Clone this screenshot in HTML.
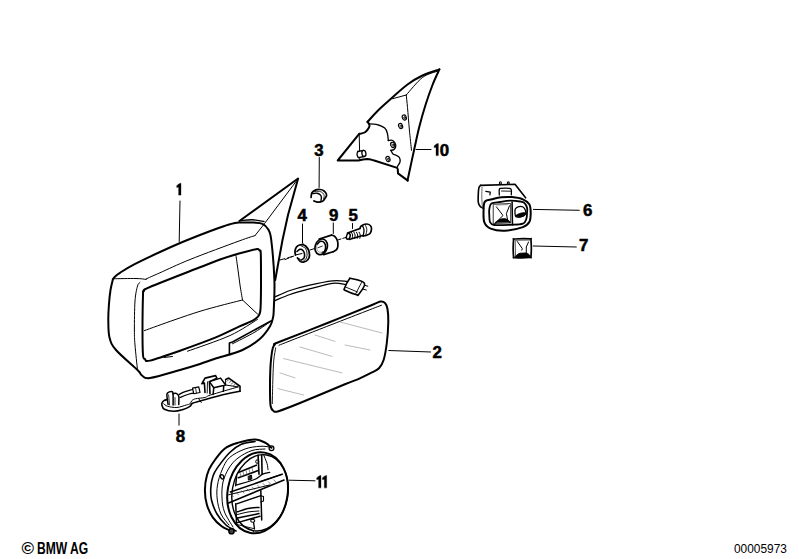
<!DOCTYPE html>
<html><head><meta charset="utf-8"><title>BMW mirror parts</title>
<style>
html,body{margin:0;padding:0;background:#fff;width:799px;height:559px;overflow:hidden}
svg{position:absolute;left:0;top:0;display:block}
.ft{position:absolute;font-family:"Liberation Sans",sans-serif;color:#000;white-space:nowrap;line-height:1}
</style></head><body>
<svg width="799" height="559" viewBox="0 0 799 559">
<g stroke-linecap="round" stroke-linejoin="round">
<path d="M112.9,279.2 C113.32,278.7 114.22,277.27 115.4,276.2 C116.58,275.13 116.87,274.77 120,272.8 C123.13,270.83 127.53,267.87 134.2,264.4 C140.87,260.93 152.53,255.48 160,252 C167.47,248.52 172.33,246.33 179,243.5 C185.67,240.67 193.17,237.67 200,235 C206.83,232.33 215,229.3 220,227.5 C225,225.7 226.83,225.02 230,224.2 C233.17,223.38 235.04,222.87 239,222.6 C242.96,222.33 249.83,222.4 253.75,222.6 C257.67,222.8 260.07,222.65 262.5,223.8 C264.93,224.95 266.84,226.8 268.3,229.5 C269.76,232.2 270.23,231.58 271.25,240 C272.27,248.42 273.98,268.33 274.4,280 C274.82,291.67 273.98,303.75 273.75,310 C273.52,316.25 273.62,314.79 273,317.5 C272.38,320.21 272.17,322.71 270,326.25 C267.83,329.79 264.58,334.79 260,338.75 C255.42,342.71 250,346.66 242.5,350 C235,353.34 222.08,356.47 215,358.8 C207.92,361.13 205.83,362.13 200,364 C194.17,365.87 188.33,367.67 180,370 C171.67,372.33 156.33,377.08 150,378 C143.67,378.92 144.08,376.83 142,375.5 C139.92,374.17 141.83,374.25 137.5,370 C133.17,365.75 120.67,355.42 116,350 C111.33,344.58 110.78,342.5 109.5,337.5 C108.22,332.5 108.4,325.42 108.3,320 C108.2,314.58 108.53,310 108.9,305 C109.27,300 109.83,294.3 110.5,290 C111.17,285.7 112.5,281 112.9,279.2" stroke="#000" stroke-width="2" fill="none"/>
<path d="M113.75,278.75 C117.46,278.71 130.58,278.39 136,278.5 C141.42,278.61 144.54,279.25 146.25,279.4" stroke="#000" stroke-width="1" fill="none"/>
<path d="M140,282.5 C139.58,283.08 138.33,282.92 137.5,286 C136.67,289.08 135.52,293.67 135,301 C134.48,308.33 134.4,322.67 134.4,330 C134.4,337.33 134.48,338.33 135,345 C135.52,351.67 137.08,365.83 137.5,370" stroke="#000" stroke-width="1" fill="none"/>
<path d="M146.2,278.9 C148.48,277.88 152.6,276.03 159.9,272.8 C167.2,269.57 176.82,264.8 190,259.5 C203.18,254.2 228.17,244.98 239,241 C249.83,237.02 252.33,236.5 255,235.6" stroke="#000" stroke-width="1" fill="none"/>
<path d="M255,235.6 L264.4,223.75 L297.5,179.5" stroke="#000" stroke-width="1" fill="none"/>
<path d="M143.75,291.25 C144.92,289.92 140.62,290.99 150,287 C159.38,283.01 188.33,271.88 200,267.3 C211.67,262.72 213.5,261.8 220,259.5 C226.5,257.2 233,255.22 239,253.5 C245,251.78 252.58,249.7 256,249.2 C259.42,248.7 258.7,249.7 259.5,250.5 C260.3,251.3 260.55,248.25 260.8,254 C261.05,259.75 261,277 261,285 C261,293 260.92,297.67 260.8,302 C260.68,306.33 260.63,308.75 260.3,311 C259.97,313.25 259.6,314.2 258.8,315.5 C258,316.8 256.97,317.73 255.5,318.8 C254.03,319.87 252.75,320.58 250,321.9 C247.25,323.22 244.7,324.12 239,326.7 C233.3,329.28 225.63,333.4 215.8,337.4 C205.97,341.4 190.97,346.83 180,350.7 C169.03,354.57 155.83,359.22 150,360.6 C144.17,361.98 146.17,359.93 145,359 C143.83,358.07 143.42,359.83 143,355 C142.58,350.17 142.5,340 142.5,330 C142.5,320 142.79,301.46 143,295 C143.21,288.54 142.58,292.58 143.75,291.25Z" stroke="#000" stroke-width="2" fill="none"/>
<path d="M144.4,330.6 C149.33,328.83 164.73,323.22 174,320 C183.27,316.78 192,313.77 200,311.3 C208,308.83 214.92,307.08 222,305.2 C229.08,303.32 239.08,300.87 242.5,300" stroke="#000" stroke-width="1" fill="none"/>
<path d="M236,255.6 C236.33,258 237.33,265.1 238,270 C238.67,274.9 239.25,280 240,285 C240.75,290 242.08,297.5 242.5,300" stroke="#000" stroke-width="1" fill="none"/>
<path d="M242.5,300 L257.5,314" stroke="#000" stroke-width="1" fill="none"/>
<path d="M164,357.5 L172.5,356.5" stroke="#000" stroke-width="1" fill="none"/>
<path d="M187.5,351.25 C194.58,348.62 218.33,340.81 230,335.5 C241.67,330.19 252.92,322.08 257.5,319.4" stroke="#000" stroke-width="1" fill="none"/>
<path d="M232.5,343.75 C236.25,341.79 248.33,335.96 255,332 C261.67,328.04 269.58,322 272.5,320" stroke="#000" stroke-width="1" fill="none"/>
<path d="M229.4,353.5 L229.4,343 L232.5,342 L271,321" stroke="#000" stroke-width="1.6" fill="none"/>
<path d="M239.4,221 L298.1,178.5 L288,215 L282.5,240 L275.2,280" stroke="#000" stroke-width="2" fill="none"/>
<path d="M240,220.6 C242.08,220.47 248.5,219.65 252.5,219.8 C256.5,219.95 262.08,221.22 264,221.5" stroke="#000" stroke-width="1.4" fill="none"/>
<path d="M180,201 L179.2,241.5" stroke="#000" stroke-width="1" fill="none"/>
<path d="M280,260 L294,256" stroke="#000" stroke-width="1" fill="none" stroke-dasharray="5 3"/>
<path d="M279,342 C288.17,338.3 314.5,328.17 330,322 C345.5,315.83 363.58,308.4 372,305 C380.42,301.6 378.3,301.9 380.5,301.6 C382.7,301.3 384.03,301.97 385.2,303.2 C386.37,304.43 386.98,305.87 387.5,309 C388.02,312.13 388.42,316.33 388.3,322 C388.18,327.67 387.58,336.67 386.8,343 C386.02,349.33 384.9,355.78 383.6,360 C382.3,364.22 380.93,366.23 379,368.3 C377.07,370.37 375.55,370.57 372,372.4 C368.45,374.23 362.22,377.32 357.7,379.3 C353.18,381.28 354.52,380.35 344.9,384.3 C335.28,388.25 311.07,398.52 300,403 C288.93,407.48 282.92,409.87 278.5,411.2 C274.08,412.53 274.82,411.87 273.5,411 C272.18,410.13 271.18,409.5 270.6,406 C270.02,402.5 270.05,396 270,390 C269.95,384 270.08,375.5 270.3,370 C270.52,364.5 270.88,360.67 271.3,357 C271.72,353.33 272.18,350.13 272.8,348 C273.42,345.87 273.97,345.2 275,344.2 C276.03,343.2 269.83,345.7 279,342Z" stroke="#000" stroke-width="2" fill="none"/>
<path d="M279,345.2 C287.5,341.87 312.92,331.87 330,325.2 C347.08,318.53 372.92,308.53 381.5,305.2" stroke="#000" stroke-width="1" fill="none"/>
<path d="M275.7,347.9 C275.38,349.92 274.27,355 273.8,360 C273.33,365 273.15,370.63 272.9,377.9 C272.65,385.17 272.4,399.32 272.3,403.6" stroke="#000" stroke-width="0.9" fill="none"/>
<path d="M300,347 L332,356.4" stroke="#aaa" stroke-width="0.8" fill="none"/>
<path d="M283.6,358.6 L342,372.9" stroke="#aaa" stroke-width="0.8" fill="none"/>
<path d="M280,372.9 L295,377.9" stroke="#aaa" stroke-width="0.8" fill="none"/>
<path d="M277.9,388.6 L303.6,395" stroke="#aaa" stroke-width="0.8" fill="none"/>
<path d="M315,335 L335,341.4" stroke="#aaa" stroke-width="0.8" fill="none"/>
<path d="M340,322 L382,333" stroke="#aaa" stroke-width="0.8" fill="none"/>
<path d="M345,345 L370,350" stroke="#aaa" stroke-width="0.8" fill="none"/>
<path d="M388.8,350.5 L430.6,352" stroke="#000" stroke-width="1" fill="none"/>
<path d="M275,296.9 C277.5,295.83 284.58,292.38 290,290.5 C295.42,288.62 300.42,287.22 307.5,285.6 C314.58,283.98 325.92,281.52 332.5,280.8 C339.08,280.08 344.58,281.22 347,281.3" stroke="#000" stroke-width="1.3" fill="none"/>
<path d="M275,300.6 C277.5,299.58 284.58,296.37 290,294.5 C295.42,292.63 300.42,291.27 307.5,289.4 C314.58,287.53 326.17,284.1 332.5,283.3 C338.83,282.5 343.33,284.38 345.5,284.6" stroke="#000" stroke-width="1.3" fill="none"/>
<path d="M344.4,288.5 C345.02,286.63 348.02,280.95 349.2,279.3 C350.38,277.65 348.95,277.93 351.5,278.6 C354.05,279.27 363.28,280.68 364.5,283.3 C365.72,285.92 360.13,292.4 358.8,294.3 C357.47,296.2 358.72,295.33 356.5,294.7 C354.28,294.07 347.52,291.53 345.5,290.5 C343.48,289.47 343.78,290.37 344.4,288.5Z" stroke="#000" stroke-width="1.6" fill="none"/>
<path d="M346,287.2 L357.5,292" stroke="#000" stroke-width="0.9" fill="none"/>
<path d="M361.5,282.5 L355.8,293.6" stroke="#000" stroke-width="0.9" fill="none"/>
<path d="M364.5,285.2 L367.8,286.2" stroke="#000" stroke-width="1" fill="none"/>
<path d="M362.6,289 L366.2,290" stroke="#000" stroke-width="1" fill="none"/>
<path d="M319.3,157.5 L319.1,187.5" stroke="#000" stroke-width="1" fill="none"/>
<path d="M311.1,197.4 C311.23,196.62 311.12,193.95 311.9,192.7 C312.68,191.45 314.42,190.43 315.8,189.9 C317.18,189.37 318.88,189.37 320.2,189.5 C321.52,189.63 322.72,190.05 323.7,190.7 C324.68,191.35 325.63,192.55 326.1,193.4 C326.57,194.25 326.7,194.93 326.5,195.8 C326.3,196.67 325.57,197.68 324.9,198.6 C324.23,199.52 323.68,200.72 322.5,201.3 C321.32,201.88 319.23,202.17 317.8,202.1 C316.37,202.03 314.55,201.1 313.9,200.9" stroke="#000" stroke-width="1.7" fill="none"/>
<path d="M312.7,193.6 C313.42,193.53 315.75,193 317,193.2 C318.25,193.4 319.47,194.13 320.2,194.8 C320.93,195.47 321.27,196.25 321.4,197.2 C321.53,198.15 321.07,199.95 321,200.5" stroke="#000" stroke-width="1.4" fill="none"/>
<path d="M314,191.6 C314.9,191.57 317.93,191.17 319.4,191.4 C320.87,191.63 322,192.27 322.8,193 C323.6,193.73 324.08,194.8 324.2,195.8 C324.32,196.8 323.62,198.47 323.5,199" stroke="#000" stroke-width="0.8" fill="none"/>
<path d="M302.5,224 L302.5,243" stroke="#000" stroke-width="1" fill="none"/>
<path d="M295.5,255 C295.42,254.33 294.83,252.33 295,251 C295.17,249.67 295.75,248 296.5,247 C297.25,246 298.42,245.42 299.5,245 C300.58,244.58 302.42,244.58 303,244.5" stroke="#000" stroke-width="1.8" fill="none"/>
<path d="M303,244.5 C303.42,244.75 304.58,245.08 305.5,246 C306.42,246.92 307.83,248.42 308.5,250 C309.17,251.58 309.58,253.92 309.5,255.5 C309.42,257.08 308.92,258.42 308,259.5 C307.08,260.58 305.25,261.67 304,262 C302.75,262.33 301.58,262.17 300.5,261.5 C299.42,260.83 298,258.58 297.5,258" stroke="#000" stroke-width="1.8" fill="none"/>
<path d="M297,251.5 C297.5,251.13 299,249.47 300,249.3 C301,249.13 302.25,249.72 303,250.5 C303.75,251.28 304.33,252.75 304.5,254 C304.67,255.25 304.5,257 304,258 C303.5,259 301.92,259.67 301.5,260" stroke="#000" stroke-width="1.6" fill="none"/>
<path d="M301.5,246 C302.17,246.42 304.58,247.33 305.5,248.5 C306.42,249.67 306.83,251.42 307,253 C307.17,254.58 307.08,256.67 306.5,258 C305.92,259.33 304,260.5 303.5,261" stroke="#000" stroke-width="0.9" fill="none"/>
<path d="M295.5,255 L302,253.5" stroke="#000" stroke-width="1" fill="none"/>
<path d="M297.5,258 L300.3,259.3" stroke="#000" stroke-width="1" fill="none"/>
<path d="M333.3,223 L333.3,233.5" stroke="#000" stroke-width="1" fill="none"/>
<ellipse cx="321.2" cy="246.8" rx="6" ry="8" transform="rotate(18 321.2 246.8)" stroke="#000" stroke-width="1.7" fill="none"/>
<path d="M317,244.5 C317.62,243.97 319.45,241.57 320.7,241.3 C321.95,241.03 323.68,241.92 324.5,242.9 C325.32,243.88 325.6,245.77 325.6,247.2 C325.6,248.63 325.05,250.62 324.5,251.5 C323.95,252.38 322.67,252.33 322.3,252.5" stroke="#000" stroke-width="1.6" fill="none"/>
<path d="M317,244.5 C316.93,245.08 316.38,246.83 316.6,248 C316.82,249.17 317.35,250.75 318.3,251.5 C319.25,252.25 321.63,252.33 322.3,252.5" stroke="#777" stroke-width="0.7" fill="none"/>
<path d="M318,247.7 L322.3,246.1" stroke="#000" stroke-width="0.8" fill="none"/>
<path d="M319.2,239 L331.5,235.1" stroke="#000" stroke-width="1.7" fill="none"/>
<path d="M331.5,235.1 C332.03,235.32 333.72,235.47 334.7,236.4 C335.68,237.33 336.87,239.08 337.4,240.7 C337.93,242.32 338.08,244.57 337.9,246.1 C337.72,247.63 337.12,248.95 336.3,249.9 C335.48,250.85 333.55,251.48 333,251.8" stroke="#000" stroke-width="1.7" fill="none"/>
<path d="M333,251.8 L323.6,254.6" stroke="#000" stroke-width="1.7" fill="none"/>
<path d="M285,259.6 L293.9,256" stroke="#000" stroke-width="1" fill="none" stroke-dasharray="4 2.5"/>
<path d="M310,250 L314.5,248.6" stroke="#000" stroke-width="1" fill="none"/>
<path d="M338.1,239.9 L345.6,237.5" stroke="#000" stroke-width="1" fill="none" stroke-dasharray="3 2"/>
<path d="M352.5,223.5 L352.5,228.5" stroke="#000" stroke-width="1" fill="none"/>
<path d="M347.5,233.1 L360,228.4" stroke="#000" stroke-width="1.6" fill="none"/>
<path d="M349.2,239.4 L362.5,235.6" stroke="#000" stroke-width="1.6" fill="none"/>
<ellipse cx="348.3" cy="236.3" rx="1.8" ry="3" transform="rotate(15 348.3 236.3)" stroke="#000" stroke-width="1.5" fill="none"/>
<path d="M360,228.4 C360.2,228 360.16,226.73 361.2,226 C362.24,225.27 364.73,224.08 366.25,224 C367.77,223.92 369.43,224.67 370.3,225.5 C371.18,226.33 371.55,227.67 371.5,229 C371.45,230.33 370.92,232.42 370,233.5 C369.08,234.58 367.17,235.08 366,235.5 C364.83,235.92 363.5,235.92 363,236" stroke="#000" stroke-width="1.7" fill="none"/>
<path d="M362.5,225.8 C362.75,226.5 363.88,228.33 364,230 C364.12,231.67 363.33,234.83 363.2,235.8" stroke="#000" stroke-width="1.3" fill="none"/>
<path d="M365.2,224.6 C365.47,225.42 366.7,227.77 366.8,229.5 C366.9,231.23 365.97,234.08 365.8,235" stroke="#000" stroke-width="0.9" fill="none"/>
<path d="M351.3,232.2 C351.52,232.67 352.47,233.98 352.6,235 C352.73,236.02 352.18,237.75 352.1,238.3" stroke="#000" stroke-width="1" fill="none"/>
<path d="M353.8,232.2 C354.02,232.67 354.97,233.98 355.1,235 C355.23,236.02 354.68,237.75 354.6,238.3" stroke="#000" stroke-width="1" fill="none"/>
<path d="M356.4,232.2 C356.62,232.67 357.57,233.98 357.7,235 C357.83,236.02 357.28,237.75 357.2,238.3" stroke="#000" stroke-width="1" fill="none"/>
<path d="M359,232.2 C359.22,232.67 360.17,233.98 360.3,235 C360.43,236.02 359.88,237.75 359.8,238.3" stroke="#000" stroke-width="1" fill="none"/>
<path d="M439.4,69.4 C436.58,70.42 427.82,72.98 422.5,75.5 C417.18,78.02 412.71,80.67 407.5,84.5 C402.29,88.33 396.17,94.17 391.25,98.5 C386.33,102.83 381.96,106.6 378,110.5 C374.04,114.4 369.25,120 367.5,121.9" stroke="#000" stroke-width="2" fill="none"/>
<path d="M367.5,121.9 C367.82,122.38 369.15,123.87 369.4,124.8 C369.65,125.73 369.67,126.3 369,127.5 C368.33,128.7 366.73,130.98 365.4,132 C364.07,133.02 362.03,133.3 361,133.6 C359.97,133.9 359.5,133.77 359.2,133.8M359.2,133.8 L337.7,160.5 L358.5,160.6 L363,159.6 L367,158.9 L371,159.6 L375,160.7 L397.2,167.9 L397.8,169.5 L398,173.4 L407.8,180.6" stroke="#000" stroke-width="2" fill="none"/>
<path d="M439.4,69.4 C438.25,72 434.82,79.07 432.5,85 C430.18,90.93 427.67,98.17 425.5,105 C423.33,111.83 421.33,118.83 419.5,126 C417.67,133.17 416.5,138.92 414.5,148 C412.5,157.08 408.67,175.08 407.5,180.5" stroke="#000" stroke-width="2" fill="none"/>
<path d="M438,71 C435.42,72.08 427.79,73.5 422.5,77.5 C417.21,81.5 408.96,92.08 406.25,95" stroke="#000" stroke-width="1" fill="none"/>
<path d="M392.5,98.75 L406.25,95" stroke="#000" stroke-width="1" fill="none"/>
<path d="M406.25,95 C406.46,97.08 406.98,101.67 407.5,107.5 C408.02,113.33 408.73,122.87 409.4,130 C410.07,137.13 411.15,146.92 411.5,150.3" stroke="#000" stroke-width="1" fill="none"/>
<path d="M359.2,134.2 L359.6,151.2" stroke="#000" stroke-width="1" fill="none"/>
<path d="M359.7,157.8 L359.8,160.3" stroke="#000" stroke-width="1" fill="none"/>
<path d="M368.75,123.75 C370,123.86 373.59,123.68 376.25,124.4 C378.91,125.12 382.82,126.5 384.7,128.1 C386.57,129.7 386.9,131.93 387.5,134 C388.1,136.07 388.17,139.42 388.3,140.5" stroke="#000" stroke-width="1.3" fill="none"/>
<path d="M388.3,140.5 C389.03,140.5 391.45,139.75 392.7,140.5 C393.95,141.25 395.58,143.5 395.8,145 C396.02,146.5 394.83,148.62 394,149.5 C393.17,150.38 391.33,150.17 390.8,150.3" stroke="#000" stroke-width="1.3" fill="none"/>
<path d="M390.8,150.3 C391.17,150.92 392.05,153.13 393,154 C393.95,154.87 395.43,154.92 396.5,155.5 C397.57,156.08 398.82,156.42 399.4,157.5 C399.98,158.58 400.33,160.52 400,162 C399.67,163.48 397.83,165.67 397.4,166.4" stroke="#000" stroke-width="1.3" fill="none"/>
<ellipse cx="404.3" cy="117.5" rx="2" ry="2.7" transform="rotate(-20 404.3 117.5)" stroke="#000" stroke-width="1.1" fill="none"/>
<ellipse cx="404.6" cy="117.8" rx="0.8" ry="1.2" transform="rotate(-20 404.6 117.8)" stroke="#000" stroke-width="0.8" fill="none"/>
<ellipse cx="400.6" cy="126" rx="2" ry="2.7" transform="rotate(-20 400.6 126)" stroke="#000" stroke-width="1.1" fill="none"/>
<ellipse cx="400.9" cy="126.3" rx="0.8" ry="1.2" transform="rotate(-20 400.9 126.3)" stroke="#000" stroke-width="0.8" fill="none"/>
<ellipse cx="392.7" cy="144.9" rx="2" ry="2.7" transform="rotate(-20 392.7 144.9)" stroke="#000" stroke-width="1.1" fill="none"/>
<ellipse cx="393" cy="145.2" rx="0.8" ry="1.2" transform="rotate(-20 393 145.2)" stroke="#000" stroke-width="0.8" fill="none"/>
<ellipse cx="388" cy="159" rx="2" ry="2.7" transform="rotate(-20 388 159)" stroke="#000" stroke-width="1.1" fill="none"/>
<ellipse cx="388.3" cy="159.3" rx="0.8" ry="1.2" transform="rotate(-20 388.3 159.3)" stroke="#000" stroke-width="0.8" fill="none"/>
<ellipse cx="363.9" cy="153.4" rx="2" ry="3.1" transform="rotate(-10 363.9 153.4)" stroke="#000" stroke-width="1.3" fill="none"/>
<path d="M357.8,151.5 L363.5,150.3" stroke="#000" stroke-width="1.3" fill="none"/>
<path d="M358.3,157.6 L364.3,156.5" stroke="#000" stroke-width="1.3" fill="none"/>
<path d="M357.8,151.5 C357.67,152 356.92,153.48 357,154.5 C357.08,155.52 358.08,157.08 358.3,157.6" stroke="#000" stroke-width="1.3" fill="none"/>
<path d="M416,149.5 L431,149.5" stroke="#000" stroke-width="1" fill="none"/>
<path d="M483.5,208.3 C483,208.05 481.37,207.8 480.5,206.8 C479.63,205.8 478.65,204.77 478.3,202.3 C477.95,199.83 478.28,194.47 478.4,192 C478.52,189.53 478.65,188.6 479,187.5 C479.35,186.4 480.25,185.75 480.5,185.4" stroke="#000" stroke-width="1.6" fill="none"/>
<path d="M480.5,185.4 L515,184.3 L525.6,197.8" stroke="#000" stroke-width="1.6" fill="none"/>
<path d="M482,187.3 C481.97,188.92 481.73,193.63 481.8,197 C481.87,200.37 482.3,205.75 482.4,207.5" stroke="#444" stroke-width="0.8" fill="none"/>
<path d="M485.8,191.4 L490.3,192.1 L489.9,194.8" stroke="#000" stroke-width="1.2" fill="none"/>
<path d="M499.3,195 C499.3,194.08 499.02,190.6 499.3,189.5 C499.58,188.4 499.3,188.58 501,188.4 C502.7,188.22 507.78,188.13 509.5,188.4 C511.22,188.67 511,188.93 511.3,190 C511.6,191.07 511.3,194 511.3,194.8" stroke="#000" stroke-width="1.3" fill="none"/>
<path d="M501.5,191 L510.5,191.2" stroke="#000" stroke-width="0.9" fill="none"/>
<ellipse cx="500.4" cy="182.9" rx="1" ry="1.2" transform="rotate(0 500.4 182.9)" stroke="#000" stroke-width="1.1" fill="none"/>
<ellipse cx="508.3" cy="183.1" rx="1" ry="1.2" transform="rotate(0 508.3 183.1)" stroke="#000" stroke-width="1.1" fill="none"/>
<path d="M485,201.5 C486.4,199.83 489.27,200 492,199.3 C494.73,198.6 498.07,197.67 501.4,197.3 C504.73,196.93 508.42,196.77 512,197.1 C515.58,197.43 520.02,198.1 522.9,199.3 C525.78,200.5 528,202.03 529.3,204.3 C530.6,206.57 530.7,209.93 530.7,212.9 C530.7,215.87 530.6,219.73 529.3,222.1 C528,224.47 526.95,225.67 522.9,227.1 C518.85,228.53 510.37,230.45 505,230.7 C499.63,230.95 494.15,230.03 490.7,228.6 C487.25,227.17 485.48,225.32 484.3,222.1 C483.12,218.88 483.48,212.73 483.6,209.3 C483.72,205.87 483.6,203.17 485,201.5Z" stroke="#000" stroke-width="2" fill="none"/>
<path d="M491.4,203.6 C493.18,202.38 496.9,202.48 500,202 C503.1,201.52 506.67,200.78 510,200.7 C513.33,200.62 517.62,201.13 520,201.5 C522.38,201.87 523.12,201.83 524.3,202.9 C525.48,203.97 526.65,206.22 527.1,207.9 C527.55,209.58 527.12,211.22 527,213 C526.88,214.78 527.08,216.83 526.4,218.6 C525.72,220.37 525.63,222.57 522.9,223.6 C520.17,224.63 514.77,224.57 510,224.8 C505.23,225.03 497.63,225.47 494.3,225 C490.97,224.53 490.83,223.67 490,222 C489.17,220.33 489.42,217.12 489.3,215 C489.18,212.88 488.95,211.2 489.3,209.3 C489.65,207.4 489.62,204.82 491.4,203.6Z" stroke="#000" stroke-width="1.8" fill="none"/>
<path d="M493.6,204.3 L510.7,203.5 L510.7,222.9 L493.6,223.5Z" stroke="#333" stroke-width="1" fill="none"/>
<path d="M496.4,206.8 L503,215.5 L497,221.5" stroke="#000" stroke-width="1" fill="none"/>
<path d="M509.5,205.7 L506.4,213.6 L507.9,221.4" stroke="#000" stroke-width="1" fill="none"/>
<path d="M496.5,205 L507.5,204.6" stroke="#777" stroke-width="0.8" fill="none"/>
<path d="M495.5,222.8 C496.25,222.25 498.58,220.17 500,219.5 C501.42,218.83 502.83,218.8 504,218.8 C505.17,218.8 506,218.87 507,219.5 C508,220.13 509.5,222.08 510,222.6" stroke="#000" stroke-width="1.3" fill="#000"/>
<path d="M512.1,202.1 L512.5,225" stroke="#000" stroke-width="1.5" fill="none"/>
<path d="M515.3,209 C515.8,207.97 516.72,207.13 518,206.8 C519.28,206.47 521.75,206.38 523,207 C524.25,207.62 525.12,209.25 525.5,210.5 C525.88,211.75 525.97,213.48 525.3,214.5 C524.63,215.52 523.05,216.23 521.5,216.6 C519.95,216.97 517.08,217.3 516,216.7 C514.92,216.1 515.12,214.28 515,213 C514.88,211.72 514.8,210.03 515.3,209Z" stroke="#000" stroke-width="1.3" fill="none"/>
<path d="M516,215.5 C516.53,215 518.03,214.05 519.5,213.6 C520.97,213.15 524.02,212.47 524.8,212.8 C525.58,213.13 524.92,214.92 524.2,215.6 C523.48,216.28 521.82,216.73 520.5,216.9 C519.18,217.07 517.05,216.83 516.3,216.6 C515.55,216.37 515.47,216 516,215.5Z" stroke="#000" stroke-width="1" fill="#000"/>
<path d="M533.4,209.4 L579.3,210.3" stroke="#000" stroke-width="1" fill="none"/>
<path d="M515,239 C517.67,238.72 526.83,238.55 529.5,238.8 C532.17,239.05 530.75,237.63 531,240.5 C531.25,243.37 531.25,253.17 531,256 C530.75,258.83 532.17,257.23 529.5,257.5 C526.83,257.77 517.67,257.85 515,257.6 C512.33,257.35 513.75,258.85 513.5,256 C513.25,253.15 513.25,243.33 513.5,240.5 C513.75,237.67 512.33,239.28 515,239Z" stroke="#000" stroke-width="1.7" fill="none"/>
<path d="M515.2,240.2 L529.8,240" stroke="#555" stroke-width="1.2" fill="none"/>
<path d="M515.2,241 L515.5,256" stroke="#444" stroke-width="0.9" fill="none"/>
<path d="M517.3,241.5 L522.3,248.5 L521.8,250.2" stroke="#000" stroke-width="1" fill="none"/>
<path d="M528.5,242 L526.3,247 L526.3,253.2" stroke="#000" stroke-width="1" fill="none"/>
<path d="M516,257 C514.2,256.47 518,254.23 519,253.6 C520,252.97 520.67,253.25 522,253.2 C523.33,253.15 525.7,252.7 527,253.3 C528.3,253.9 531.63,256.18 529.8,256.8 C527.97,257.42 517.8,257.53 516,257Z" stroke="#000" stroke-width="1" fill="#000"/>
<path d="M533.2,246 L576.3,247" stroke="#000" stroke-width="1" fill="none"/>
<path d="M167.5,399.4 C166.92,399.6 164.88,400.08 164,400.6 C163.12,401.12 162.55,401.77 162.2,402.5 C161.85,403.23 161.53,403.88 161.9,405 C162.27,406.12 162.43,408.17 164.4,409.2 C166.38,410.23 170.63,411.17 173.75,411.2 C176.87,411.23 180.39,410.22 183.1,409.4 C185.81,408.58 188.43,407.32 190,406.3 C191.57,405.28 190.52,404.25 192.5,403.3 C194.48,402.35 197.32,401.9 201.9,400.6 C206.48,399.3 213.65,397.06 220,395.5 C226.35,393.94 236.67,391.96 240,391.25" stroke="#000" stroke-width="1.6" fill="none"/>
<path d="M240,391.25 L240,386.25 L228.75,378.1 L225.6,379.4" stroke="#000" stroke-width="1.6" fill="none"/>
<path d="M163.75,403.75 C164.38,404.17 165.31,405.62 167.5,406.25 C169.69,406.88 173.78,407.71 176.9,407.5 C180.03,407.29 184.07,405.62 186.25,405 C188.43,404.38 189.06,404.48 190,403.75 C190.94,403.02 190.97,401.43 191.9,400.6 C192.83,399.77 193.42,399.27 195.6,398.75 C197.78,398.23 202.5,398.12 205,397.5 C207.5,396.88 205.08,396.77 210.6,395 C216.12,393.23 233.52,388.25 238.1,386.9" stroke="#000" stroke-width="1" fill="none"/>
<path d="M201.25,402.5 L198.75,398.75" stroke="#000" stroke-width="1" fill="none"/>
<path d="M225.6,379.4 L225.6,385 L238.1,386.9" stroke="#000" stroke-width="1" fill="none"/>
<path d="M229,379.6 L227,381.1" stroke="#333" stroke-width="0.7" fill="none"/>
<path d="M231.1,381.1 L229.1,382.6" stroke="#333" stroke-width="0.7" fill="none"/>
<path d="M233.2,382.6 L231.2,384.1" stroke="#333" stroke-width="0.7" fill="none"/>
<path d="M235.3,384.1 L233.3,385.6" stroke="#333" stroke-width="0.7" fill="none"/>
<path d="M237.4,385.6 L235.4,387.1" stroke="#333" stroke-width="0.7" fill="none"/>
<path d="M205,392.5 L204.4,383.1 L201.9,383.75 L205,378.1 L215.6,375.6 L216.9,378.1 L209.4,381.6 L210,393.75" stroke="#000" stroke-width="1.6" fill="none"/>
<path d="M207.5,381.9 L207.2,393.1" stroke="#000" stroke-width="0.9" fill="none"/>
<path d="M209.4,381.6 L220.6,378.1 L225.6,385 L213.75,387.8Z" stroke="#000" stroke-width="1.5" fill="none"/>
<path d="M213.75,387.8 L213.1,394.4" stroke="#000" stroke-width="1.5" fill="none"/>
<path d="M223.75,385.6 L223.4,391.25" stroke="#000" stroke-width="1.5" fill="none"/>
<path d="M168.1,404.5 C167.9,402.82 166.68,396.5 166.9,394.4 C167.12,392.3 168.47,392.32 169.4,391.9 C170.33,391.48 171.88,391.38 172.5,391.9 C173.12,392.42 173,392.82 173.1,395 C173.2,397.18 173.1,403.33 173.1,405" stroke="#000" stroke-width="1.5" fill="none"/>
<path d="M168.6,394.8 L169.6,405" stroke="#000" stroke-width="0.8" fill="none"/>
<path d="M172.8,393.75 C173.38,393.69 175.26,392.98 176.25,393.4 C177.24,393.82 178.33,394.42 178.75,396.25 C179.17,398.08 178.75,403.04 178.75,404.4" stroke="#000" stroke-width="1.5" fill="none"/>
<path d="M175,397.5 L175,405" stroke="#000" stroke-width="0.8" fill="none"/>
<path d="M179.4,394.4 C180.23,393.98 182.22,392.72 184.4,391.9 C186.58,391.08 191.15,389.9 192.5,389.5" stroke="#000" stroke-width="1.3" fill="none"/>
<path d="M180,397.5 C181.04,397.08 184.07,395.73 186.25,395 C188.43,394.27 191.96,393.42 193.1,393.1" stroke="#000" stroke-width="1.3" fill="none"/>
<path d="M192.5,388.1 L198.75,386.9 L200,392.5 L193.75,393.75Z" stroke="#000" stroke-width="1.2" fill="none"/>
<path d="M195.5,387.6 L196.5,393.2" stroke="#000" stroke-width="0.8" fill="none"/>
<path d="M179,414 L179,425.2" stroke="#000" stroke-width="1" fill="none"/>
<path d="M229.5,530.2 C228.18,529.55 224.38,528.43 221.6,526.3 C218.82,524.17 215.25,521 212.8,517.4 C210.35,513.8 208.22,509.27 206.9,504.7 C205.58,500.13 204.88,494.95 204.9,490 C204.92,485.05 205.85,479.25 207,475 C208.15,470.75 208.87,468.87 211.8,464.5 C214.73,460.13 220.02,452.48 224.6,448.8 C229.18,445.12 234.23,443.97 239.3,442.4 C244.37,440.83 250.62,439.32 255,439.4 C259.38,439.48 262.85,441.5 265.6,442.9 C268.35,444.3 270.52,446.98 271.5,447.8" stroke="#000" stroke-width="2" fill="none"/>
<path d="M236,531 C234.33,530 229.17,527.83 226,525 C222.83,522.17 219.42,518.17 217,514 C214.58,509.83 212.53,504.33 211.5,500 C210.47,495.67 210.55,492 210.8,488 C211.05,484 211.85,479.43 213,476 C214.15,472.57 214.95,471.28 217.7,467.4 C220.45,463.52 225.57,456.55 229.5,452.7 C233.43,448.85 237.05,446.17 241.3,444.3 C245.55,442.43 252.72,441.97 255,441.5" stroke="#000" stroke-width="1.6" fill="none"/>
<path d="M229,525 C227.67,523.17 222.97,518.33 221,514 C219.03,509.67 217.78,503.83 217.2,499 C216.62,494.17 216.7,489.83 217.5,485 C218.3,480.17 220,474.57 222,470 C224,465.43 225.67,461.1 229.5,457.6 C233.33,454.1 239.92,450.88 245,449 C250.08,447.12 255.83,446.63 260,446.3 C264.17,445.97 268.33,446.88 270,447" stroke="#000" stroke-width="1" fill="none"/>
<path d="M233,527 C231.58,524.5 226.33,516.83 224.5,512 C222.67,507.17 222.25,503 222,498 C221.75,493 221.83,487 223,482 C224.17,477 226.5,472 229,468 C231.5,464 234.17,460.92 238,458 C241.83,455.08 247.5,452 252,450.5 C256.5,449 262.83,449.25 265,449" stroke="#000" stroke-width="1" fill="none"/>
<ellipse cx="257.6" cy="492.8" rx="30" ry="40.8" transform="rotate(10 257.6 492.8)" stroke="#000" stroke-width="2" fill="none"/>
<ellipse cx="260" cy="492.8" rx="27.8" ry="38.4" transform="rotate(10 260 492.8)" stroke="#000" stroke-width="1.4" fill="none"/>
<ellipse cx="231.5" cy="531.2" rx="2.6" ry="2.6" transform="rotate(0 231.5 531.2)" stroke="#000" stroke-width="1.5" fill="#444"/>
<ellipse cx="271.5" cy="448.3" rx="2.4" ry="2.4" transform="rotate(0 271.5 448.3)" stroke="#000" stroke-width="1.3" fill="none"/>
<ellipse cx="222.1" cy="476.8" rx="1.6" ry="2.2" transform="rotate(-20 222.1 476.8)" stroke="#000" stroke-width="1.4" fill="none"/>
<path d="M258.1,455.4 L259,474.2" stroke="#000" stroke-width="1.6" fill="none"/>
<path d="M261.7,455.4 L262.1,474.2" stroke="#000" stroke-width="1.6" fill="none"/>
<path d="M263.5,454.5 C264.08,455.98 266.25,460.87 267,463.4 C267.75,465.93 267.83,468.65 268,469.7" stroke="#000" stroke-width="1" fill="none"/>
<path d="M238.4,472.4 L256.3,465.2" stroke="#000" stroke-width="1.6" fill="none"/>
<path d="M238.4,477.7 L258.1,470.6" stroke="#000" stroke-width="1.6" fill="none"/>
<path d="M240,473 L241,476.5" stroke="#555" stroke-width="0.7" fill="none"/>
<path d="M243,471.8 L244,475.3" stroke="#555" stroke-width="0.7" fill="none"/>
<path d="M246,470.6 L247,474.1" stroke="#555" stroke-width="0.7" fill="none"/>
<path d="M249,469.4 L250,472.9" stroke="#555" stroke-width="0.7" fill="none"/>
<path d="M252,468.2 L253,471.7" stroke="#555" stroke-width="0.7" fill="none"/>
<ellipse cx="257.2" cy="461.6" rx="1.5" ry="1.8" transform="rotate(0 257.2 461.6)" stroke="#000" stroke-width="1" fill="none"/>
<path d="M236.6,476 L235.7,485.8" stroke="#000" stroke-width="1.5" fill="none"/>
<path d="M236.6,484.9 C239.58,484 250.17,481.28 254.5,479.5 C258.83,477.72 260.07,475.38 262.6,474.2 C265.13,473.02 268.52,472.7 269.7,472.4" stroke="#000" stroke-width="1.3" fill="none"/>
<path d="M248.5,476.2 L251.5,475.2 L251.8,479 L248.8,480Z" stroke="#000" stroke-width="1" fill="#222"/>
<path d="M230.4,492 L282.2,474.2" stroke="#000" stroke-width="1.5" fill="none"/>
<path d="M228.6,494.8 L269.7,485" stroke="#000" stroke-width="1" fill="none"/>
<path d="M228.6,502.9 L284,480" stroke="#000" stroke-width="1.6" fill="none"/>
<path d="M260.8,481.3 L282.2,474.2" stroke="#000" stroke-width="1" fill="none"/>
<path d="M231,494.5 L233.2,496.7" stroke="#444" stroke-width="0.7" fill="none"/>
<path d="M236.33,492.67 L238.53,494.87" stroke="#444" stroke-width="0.7" fill="none"/>
<path d="M241.67,490.83 L243.87,493.03" stroke="#444" stroke-width="0.7" fill="none"/>
<path d="M247,489 L249.2,491.2" stroke="#444" stroke-width="0.7" fill="none"/>
<path d="M252.33,487.17 L254.53,489.37" stroke="#444" stroke-width="0.7" fill="none"/>
<path d="M257.67,485.33 L259.87,487.53" stroke="#444" stroke-width="0.7" fill="none"/>
<path d="M263,483.5 L265.2,485.7" stroke="#444" stroke-width="0.7" fill="none"/>
<path d="M268.33,481.67 L270.53,483.87" stroke="#444" stroke-width="0.7" fill="none"/>
<path d="M273.67,479.83 L275.87,482.03" stroke="#444" stroke-width="0.7" fill="none"/>
<path d="M235.7,503.8 L236.6,524.4" stroke="#000" stroke-width="1.5" fill="none"/>
<path d="M260.8,490.4 L261.7,519.9" stroke="#000" stroke-width="1.5" fill="none"/>
<path d="M236.6,503.8 L260.8,495.7" stroke="#000" stroke-width="1.4" fill="none"/>
<path d="M237.5,511.8 C239.25,511.25 244.42,509.23 248,508.5 C251.58,507.77 257.17,507.58 259,507.4" stroke="#000" stroke-width="1.5" fill="none"/>
<path d="M237.5,514.5 C239.25,514.08 244.42,512.58 248,512 C251.58,511.42 257.17,511.17 259,511" stroke="#000" stroke-width="1" fill="none"/>
<path d="M237.5,518.1 L259,513.6" stroke="#000" stroke-width="1.5" fill="none"/>
<path d="M237.5,522.6 L259.9,516.3" stroke="#000" stroke-width="1.5" fill="none"/>
<path d="M260.8,495.7 L263.5,496.6 L263.5,501.1 L260.8,502" stroke="#000" stroke-width="1.1" fill="none"/>
<ellipse cx="252.7" cy="520.8" rx="2" ry="1.5" transform="rotate(0 252.7 520.8)" stroke="#000" stroke-width="1.1" fill="none"/>
<path d="M253.6,522.6 L254.5,528.8" stroke="#000" stroke-width="1.3" fill="none"/>
<path d="M236.6,524.4 L254.5,528.8" stroke="#000" stroke-width="0.9" fill="none"/>
<path d="M241.1,524.4 L253.6,531.5" stroke="#000" stroke-width="0.9" fill="none"/>
<path d="M289.2,480.2 L315,480.8" stroke="#000" stroke-width="1" fill="none"/>
<path d="M178.6,195 L178.6,187.2 L176.7,187.4 L176.7,185.6 L177.4,185.2 C178.4,184.4 178.7,183.2 181,183.2 L181,195 Z" fill="#000" stroke="#000" stroke-width="0.3"/>
<path d="M436,155.4 L436,147.4 L434.1,147.6 L434.1,145.8 L434.8,145.4 C435.8,144.6 436.1,143.4 438.4,143.4 L438.4,155.4 Z" fill="#000" stroke="#000" stroke-width="0.3"/>
<path d="M318.6,487.7 L318.6,479.4 L316.7,479.6 L316.7,477.8 L317.4,477.4 C318.4,476.6 318.7,475.4 321,475.4 L321,487.7 Z" fill="#000" stroke="#000" stroke-width="0.3"/>
<path d="M324.3,487.7 L324.3,479.4 L322.4,479.6 L322.4,477.8 L323.1,477.4 C324.1,476.6 324.4,475.4 326.7,475.4 L326.7,487.7 Z" fill="#000" stroke="#000" stroke-width="0.3"/>
</g>
<g font-family="Liberation Sans, sans-serif" font-weight="bold" fill="#000" stroke="#000" stroke-width="0.5">
<text transform="translate(432.6 358.4) scale(1.08 1)" font-size="15.6">2</text>
<text transform="translate(314.2 155.5) scale(1.08 1)" font-size="15.6">3</text>
<text transform="translate(297.4 221.3) scale(1.08 1)" font-size="15.6">4</text>
<text transform="translate(329 221.3) scale(1.08 1)" font-size="15.6">9</text>
<text transform="translate(348.4 221.3) scale(1.08 1)" font-size="15.6">5</text>
<text transform="translate(439.8 155.7) scale(1.08 1)" font-size="15.6">0</text>
<text transform="translate(583 216.1) scale(1.08 1)" font-size="15.6">6</text>
<text transform="translate(578.9 251.2) scale(1.08 1)" font-size="15.6">7</text>
<text transform="translate(175.7 441.9) scale(1.08 1)" font-size="15.6">8</text>
</g>
</svg>
<div class="ft" style="left:21.5px;top:540.1px;font-size:17px;font-weight:bold;">&copy;</div>
<div class="ft" style="left:36.6px;top:541px;font-size:16px;font-weight:bold;transform:scaleX(0.755);transform-origin:0 0;">BMW AG</div>
<div class="ft" style="left:734px;top:543px;font-size:12.5px;transform:scaleX(0.95);transform-origin:0 0;">00005973</div>
</body></html>
